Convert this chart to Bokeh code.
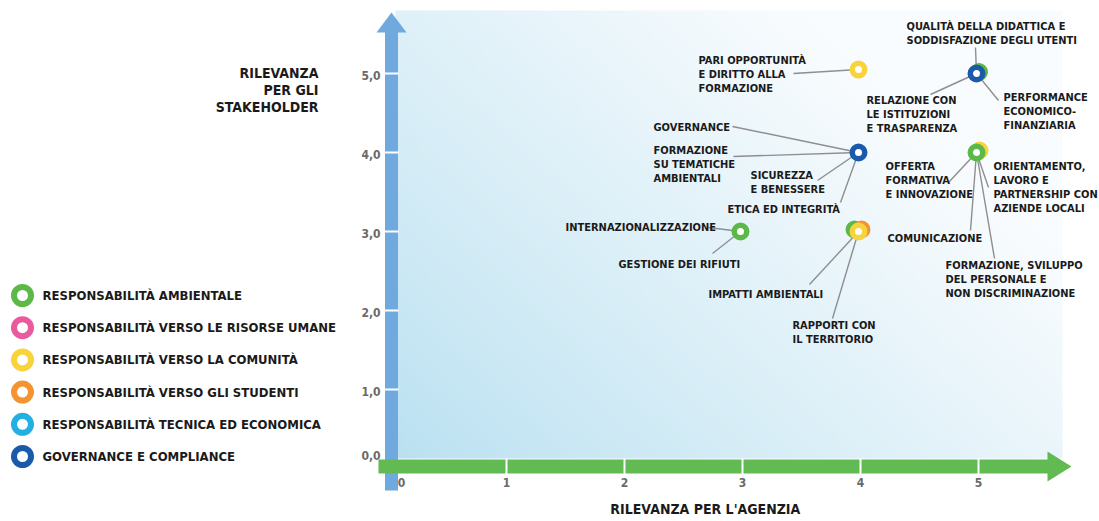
import numpy as np
from bokeh.plotting import figure
from bokeh.models import Range1d, ColumnDataSource
from bokeh.core.properties import value
from bokeh.embed import file_html
from bokeh.resources import INLINE

# ------------------------------------------------------------------ data
CATEGORIES = [
    "RESPONSABILITÀ  AMBIENTALE",
    "RESPONSABILITÀ  VERSO LE RISORSE UMANE",
    "RESPONSABILITÀ  VERSO LA COMUNITÀ",
    "RESPONSABILITÀ  VERSO GLI STUDENTI",
    "RESPONSABILITÀ TECNICA ED ECONOMICA",
    "GOVERNANCE E COMPLIANCE",
]
CATEGORY_COLORS = ["#5cb947", "#ea5a9e", "#f9d33a", "#f39331", "#22afe4", "#1b5aab"]

# visible rings (back to front)
POINT_X = [4, 5, 5, 4, 5, 5, 3, 4, 4, 4]
POINT_Y = [5.05, 5, 5, 4, 4, 4, 3, 3, 3, 3]
POINT_CATEGORY = [2, 0, 5, 5, 2, 0, 0, 0, 3, 2]

TOPIC_LABELS = [
    "PARI OPPORTUNITÀ\nE DIRITTO ALLA\nFORMAZIONE",
    "QUALITÀ DELLA DIDATTICA E\nSODDISFAZIONE DEGLI UTENTI",
    "RELAZIONE CON\nLE ISTITUZIONI\nE TRASPARENZA",
    "PERFORMANCE\nECONOMICO-\nFINANZIARIA",
    "GOVERNANCE",
    "FORMAZIONE\nSU TEMATICHE\nAMBIENTALI",
    "SICUREZZA\nE BENESSERE",
    "ETICA ED INTEGRITÀ",
    "OFFERTA\nFORMATIVA\nE INNOVAZIONE",
    "ORIENTAMENTO,\nLAVORO E\nPARTNERSHIP CON\nAZIENDE LOCALI",
    "COMUNICAZIONE",
    "FORMAZIONE, SVILUPPO\nDEL PERSONALE E\nNON DISCRIMINAZIONE",
    "INTERNAZIONALIZZAZIONE",
    "GESTIONE DEI RIFIUTI",
    "IMPATTI AMBIENTALI",
    "RAPPORTI CON\nIL TERRITORIO",
]
TOPIC_X = [4, 5, 5, 5, 4, 4, 4, 4, 5, 5, 5, 5, 3, 3, 4, 4]
TOPIC_Y = [5.05, 5, 5, 5, 4, 4, 4, 4, 4, 4, 4, 4, 3, 3, 3, 3]

X_TICKS = [0, 1, 2, 3, 4, 5]
X_TICK_LABELS = ["0", "1", "2", "3", "4", "5"]
Y_TICKS = [0, 1, 2, 3, 4, 5]
Y_TICK_LABELS = ["0,0", "1,0", "2,0", "3,0", "4,0", "5,0"]
X_TITLE = "RILEVANZA  PER L'AGENZIA"
Y_TITLE = "RILEVANZA\nPER GLI\nSTAKEHOLDER"

# ------------------------------------------------------------------ layout / style
W, H = 1099, 521
X0_PX, X_UNIT = 386.0, 118.0
Y0_PX, Y_UNIT = 468.0, 79.0
FONT = value("'Liberation Sans Narrow', 'Arial Narrow', 'DejaVu Sans Condensed', 'Roboto Condensed', sans-serif")
TXT = "#1a1a1a"
GREY = "#6a6a6a"

# pixel jitter of overlapping rings (style only)
POINT_JITTER = [(0, 0), (2.5, -1.5), (0, 0), (0, 0), (3, -2), (0, 0), (0, 0), (-4, -2), (3, -2), (0, 0)]
# label placement relative to its point (pixels): text left/first-line centre, leader start
LABEL_LAYOUT = [
    (-160, -9, -65, 4),
    (-70, -47, -1, -26),
    (-110, 27, -46, 21),
    (27, 24, 22, 27),
    (-205, -25, -126, -26),
    (-205, -2, -125, 4),
    (-108, 23, -41, 28),
    (-131, 57, -18, 50),
    (-91, 14, -28, 30),
    (17, 14, 12, 35),
    (-89, 86, -6, 78),
    (-31, 113, 18, 106),
    (-175, -4, -32, -4),
    (-122, 33, -28, 22),
    (-150, 63, -49, 53),
    (-66, 94, -26, 87),
]
LINE_H = 14


def dx(px):
    return (px - X0_PX) / X_UNIT


def dy(py):
    return (Y0_PX - py) / Y_UNIT


def px_x(x):
    return X0_PX + x * X_UNIT


def px_y(y):
    return Y0_PX - y * Y_UNIT


p = figure(width=W, height=H, x_range=Range1d(dx(0), dx(W)), y_range=Range1d(dy(H), dy(0)),
           output_backend="svg", toolbar_location=None, min_border=0,
           x_axis_location=None, y_axis_location=None, title=None)
p.grid.visible = False
p.outline_line_color = None
p.background_fill_color = "white"
p.border_fill_color = "white"

# ---- background gradient
nx, ny = 240, 180
U, V = np.meshgrid(np.linspace(0, 1, nx), np.linspace(0, 1, ny))
t = np.clip(0.75 * U + 0.55 * V, 0, 1) ** 0.9
c0 = np.array([186, 225, 241])
c1 = np.array([249, 252, 254])
rgb = (c0[None, None, :] * (1 - t[..., None]) + c1[None, None, :] * t[..., None]).astype(np.uint8)
img = np.empty((ny, nx), dtype=np.uint32)
view = img.view(dtype=np.uint8).reshape((ny, nx, 4))
view[..., 0] = rgb[..., 0]
view[..., 1] = rgb[..., 1]
view[..., 2] = rgb[..., 2]
view[..., 3] = 255
p.image_rgba(image=[img], x=dx(395), y=dy(458), dw=dx(1062) - dx(395), dh=dy(10) - dy(458))

# ---- axis arrows
BLUE_AX = "#70a9dd"
GREEN_AX = "#62ba52"
p.quad(left=dx(384.5), right=dx(397.5), bottom=dy(490), top=dy(31), fill_color=BLUE_AX, line_color=None)
p.patch([dx(376), dx(406), dx(391)], [dy(32), dy(32), dy(12)], fill_color=BLUE_AX, line_color=None)
p.quad(left=dx(378), right=dx(1048), bottom=dy(473), top=dy(459), fill_color=GREEN_AX, line_color=None)
p.patch([dx(1047), dx(1047), dx(1071)], [dy(451), dy(481), dy(466)], fill_color=GREEN_AX, line_color=None)

xt = [x for x in X_TICKS if x > 0]
p.segment(x0=[x + 2 / X_UNIT for x in xt], x1=[x + 2 / X_UNIT for x in xt],
          y0=[dy(458)] * len(xt), y1=[dy(474)] * len(xt), line_color="white", line_width=2)
yt = [y for y in Y_TICKS if y > 0]
p.segment(x0=[dx(384)] * len(yt), x1=[dx(398)] * len(yt), y0=yt, y1=yt, line_color="white", line_width=2)

# ---- tick labels
p.text(x=[x + (15 if x == 0 else 2) / X_UNIT for x in X_TICKS], y=[dy(482)] * len(X_TICKS), text=X_TICK_LABELS,
       text_font=FONT, text_font_style="bold", text_font_size="12px", text_color=GREY,
       text_align="center", text_baseline="middle")
p.text(x=[dx(380)] * len(Y_TICKS), y=[dy(px_y(y) + (-13 if y == 0 else 2)) for y in Y_TICKS], text=Y_TICK_LABELS,
       text_font=FONT, text_font_style="bold", text_font_size="12px", text_color=GREY,
       text_align="right", text_baseline="middle")

# ---- axis titles
p.text(x=[dx(707)], y=[dy(508)], text=[X_TITLE], text_font=FONT, text_font_style="bold",
       text_font_size="14px", text_color=TXT, text_align="center", text_baseline="middle")
yl = Y_TITLE.split("\n")
p.text(x=[dx(318)] * len(yl), y=[dy(72 + 17 * i) for i in range(len(yl))], text=yl, text_font=FONT,
       text_font_style="bold", text_font_size="14px", text_color=TXT, text_align="right", text_baseline="middle")

# ---- leader lines
lx0, ly0, lx1, ly1 = [], [], [], []
for tx, ty, lay in zip(TOPIC_X, TOPIC_Y, LABEL_LAYOUT):
    lx0.append(dx(px_x(tx) + lay[2]))
    ly0.append(dy(px_y(ty) + lay[3]))
    lx1.append(tx)
    ly1.append(ty)
p.segment(x0=lx0, y0=ly0, x1=lx1, y1=ly1, line_color="#8e8e8e", line_width=1.4)

# ---- rings
src = ColumnDataSource(dict(
    x=[x + j[0] / X_UNIT for x, j in zip(POINT_X, POINT_JITTER)],
    y=[y - j[1] / Y_UNIT for y, j in zip(POINT_Y, POINT_JITTER)],
    c=[CATEGORY_COLORS[k] for k in POINT_CATEGORY],
))
p.scatter("x", "y", source=src, size=12.5, line_width=5.5, line_color="c", fill_color="white")

# ---- topic labels
tx_, ty_, tt_ = [], [], []
for label, x, y, lay in zip(TOPIC_LABELS, TOPIC_X, TOPIC_Y, LABEL_LAYOUT):
    for i, line in enumerate(label.split("\n")):
        tx_.append(dx(px_x(x) + lay[0]))
        ty_.append(dy(px_y(y) + lay[1] + i * LINE_H))
        tt_.append(line)
p.text(x=tx_, y=ty_, text=tt_, text_font=FONT, text_font_style="bold", text_font_size="11px",
       text_color=TXT, text_align="left", text_baseline="middle")

# ---- legend
leg_y = [295 + 32.2 * i for i in range(len(CATEGORIES))]
p.scatter(x=[dx(22)] * len(CATEGORIES), y=[dy(v) for v in leg_y], size=17, line_width=6,
          line_color=CATEGORY_COLORS, fill_color="white")
p.text(x=[dx(42)] * len(CATEGORIES), y=[dy(v) for v in leg_y], text=CATEGORIES, text_font=FONT,
       text_font_style="bold", text_font_size="13px", text_color=TXT, text_align="left", text_baseline="middle")

open("out.html", "w").write(file_html(p, INLINE))
